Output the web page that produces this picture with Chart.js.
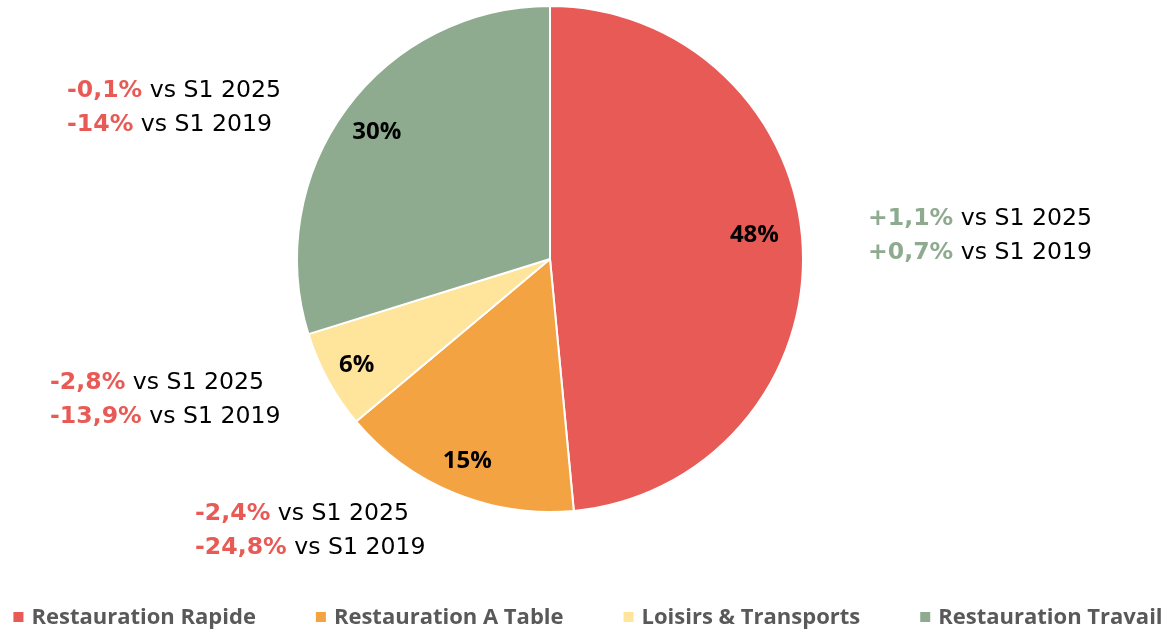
<!DOCTYPE html>
<html>
<head>
<meta charset="utf-8">
<script src="https://cdn.jsdelivr.net/npm/chart.js@4/dist/chart.umd.min.js"></script>
<style>
  html, body { margin: 0; padding: 0; background: #ffffff; }
  #wrap { width: 1172px; height: 634px; position: relative; }
</style>
</head>
<body>
<div id="wrap"><canvas id="c" width="1172" height="634"></canvas></div>
<script>
const categories = ['Restauration Rapide', 'Restauration A Table', 'Loisirs & Transports', 'Restauration Travail'];
const shares = [48.5, 15.4, 6.3, 29.8];
const shareLabels = ['48%', '15%', '6%', '30%'];
const vs2025 = ['+1,1%', '-2,4%', '-2,8%', '-0,1%'];
const vs2019 = ['+0,7%', '-24,8%', '-13,9%', '-14%'];
const period2025 = 'vs S1 2025';
const period2019 = 'vs S1 2019';

const sliceColors = ['#E85A55', '#F4A342', '#FFE49C', '#8EAB8F'];
const RED = '#E85A55', GREEN = '#8EAB8F';

const pieLabelsPlugin = {
  id: 'pieLabels',
  afterDatasetsDraw(chart, args, opts) {
    const ctx = chart.ctx;
    const meta = chart.getDatasetMeta(0);
    ctx.save();
    meta.data.forEach((arc, i) => {
      const {x, y, startAngle, endAngle, outerRadius} = arc.getProps(['x','y','startAngle','endAngle','outerRadius'], true);
      const mid = (startAngle + endAngle) / 2 + opts.labelAngleShift[i];
      const r = outerRadius * opts.labelRadius[i];
      ctx.font = 'bold 24px "Open Sans"';
      ctx.fillStyle = '#000000';
      ctx.textAlign = 'center';
      ctx.textBaseline = 'middle';
      ctx.fillText(shareLabels[i], x + Math.cos(mid) * r, y + Math.sin(mid) * r + 1);

      // annotation block
      const a = opts.anchors[i];
      const ax = x + a[0] * outerRadius;
      const ay = y + a[1] * outerRadius;
      const lines = [[vs2025[i], period2025], [vs2019[i], period2019]];
      lines.forEach((ln, k) => {
        const ly = ay + k * opts.lineGap + 1;
        const val = ln[0];
        ctx.textAlign = 'left';
        ctx.textBaseline = 'middle';
        ctx.font = 'bold 23.6px "DejaVu Sans"';
        ctx.fillStyle = val.startsWith('+') ? GREEN : RED;
        ctx.fillText(val, ax, ly);
        const w = ctx.measureText(val).width;
        ctx.font = '23.6px "DejaVu Sans"';
        const sp = ctx.measureText(' ').width;
        ctx.fillStyle = '#000000';
        ctx.fillText(ln[1], ax + w + sp, ly);
      });
    });
    ctx.restore();
  }
};

const bottomLegendPlugin = {
  id: 'bottomLegend',
  afterDraw(chart, args, opts) {
    const ctx = chart.ctx;
    ctx.save();
    ctx.font = 'bold 22px "Open Sans"';
    const widths = categories.map(t => ctx.measureText(t).width);
    const itemW = widths.map(w => opts.box + opts.textGap + w);
    const total = itemW.reduce((s, v) => s + v, 0) + opts.itemGap * (categories.length - 1);
    let x = (chart.width - total) / 2 + 2;
    const y = opts.y;
    categories.forEach((t, i) => {
      ctx.fillStyle = sliceColors[i];
      ctx.fillRect(x, y - opts.box / 2, opts.box, opts.box);
      ctx.fillStyle = '#595959';
      ctx.textAlign = 'left';
      ctx.textBaseline = 'middle';
      ctx.fillText(t, x + opts.box + opts.textGap, y + 1);
      x += itemW[i] + opts.itemGap;
    });
    ctx.restore();
  }
};

new Chart(document.getElementById('c'), {
  type: 'pie',
  data: {
    labels: categories,
    datasets: [{
      data: shares,
      backgroundColor: sliceColors,
      borderColor: '#ffffff',
      borderWidth: 2,
      hoverOffset: 0
    }]
  },
  options: {
    responsive: false,
    animation: false,
    layout: { padding: { top: 5, bottom: 121, left: 0, right: 72 } },
    plugins: {
      legend: { display: false },
      tooltip: { enabled: false },
      pieLabels: {
        labelRadius: [0.814, 0.86, 0.87, 0.85],
        labelAngleShift: [-0.075, 0, 0, 0],
        anchors: [[1.257, -0.162], [-1.403, 1.004], [-1.976, 0.486], [-1.909, -0.668]],
        lineGap: 34
      },
      bottomLegend: { box: 10, textGap: 8, itemGap: 60, y: 617 }
    }
  },
  plugins: [pieLabelsPlugin, bottomLegendPlugin]
});
</script>
</body>
</html>
